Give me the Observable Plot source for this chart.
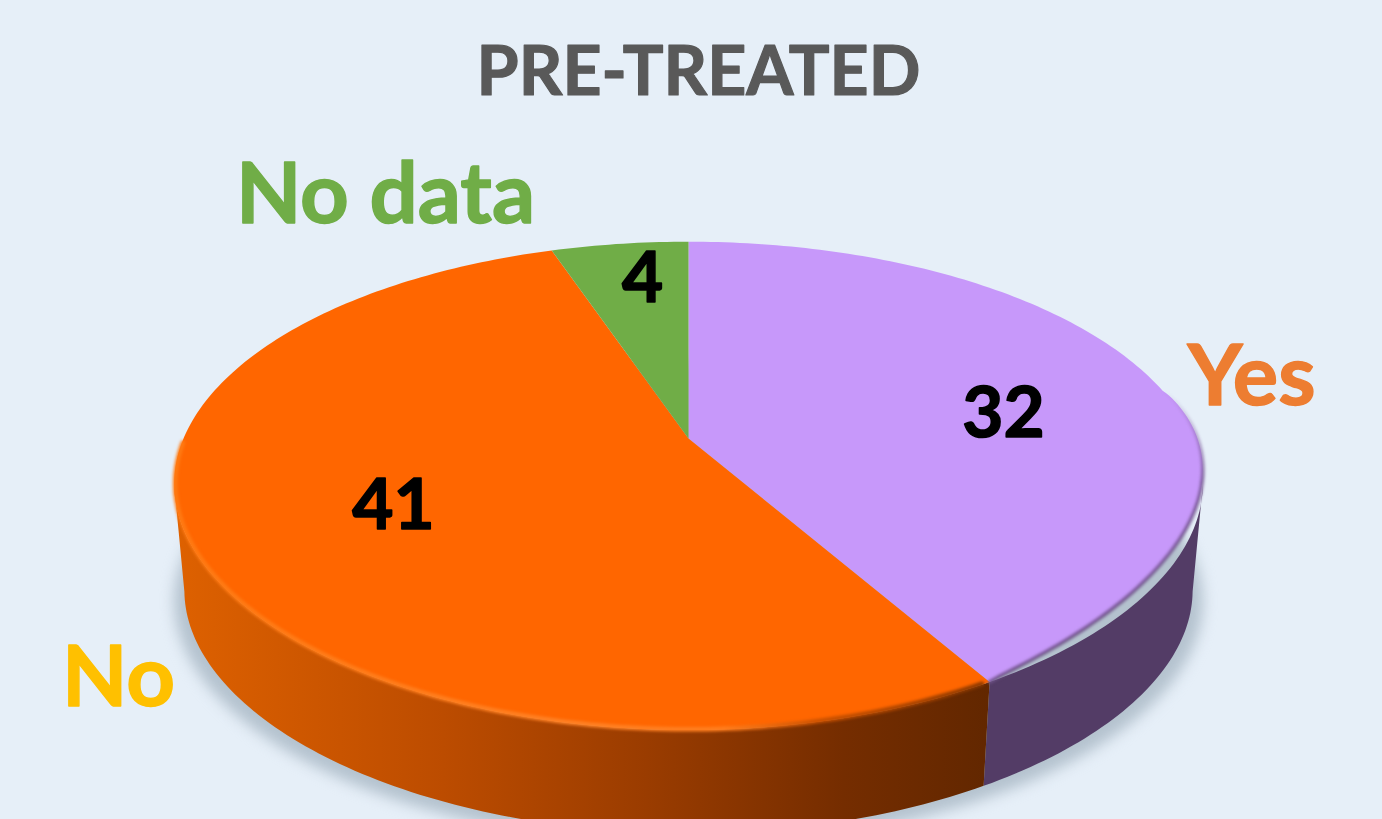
<!DOCTYPE html>
<html><head><meta charset="utf-8">
<script src="https://cdn.jsdelivr.net/npm/d3@7"></script>
<script src="https://cdn.jsdelivr.net/npm/@observablehq/plot@0.6"></script>
<style>html,body{margin:0;padding:0;background:#E6EFF8;overflow:hidden}svg{display:block}</style>
</head><body><div id="chart"></div>
<script>
const chartTitle = "PRE-TREATED";
const categories = ["Yes", "No", "No data"];
const values = [32, 41, 4];

const faceColors = ["#C798FA", "#FF6600", "#70AD47"];
const labelColors = ["#ED7D31", "#FFC000", "#70AD47"];

// Perspective disc: maps a polar position on the pie to the picture.
const k = 0.194;
const cx = 688;
const topPlane = {a: 438, b: 235, c: 505};
const basePlane = {a: 545, b: 232, c: 495};
const project = (p, deg, r = 1) => {
  const t = deg * Math.PI / 180, u = r * Math.sin(t), v = -r * Math.cos(t), w = 1 - k * v;
  const squeeze = 1 - 0.025 * Math.max(v, 0) ** 2;
  return {x: cx + p.c * u / w * squeeze, y: p.a + p.b * v / w};
};
const arcDegrees = (a0, a1) => {
  const n = Math.max(2, Math.ceil(Math.abs(a1 - a0)));
  return d3.range(n + 1).map(i => a0 + (a1 - a0) * i / n);
};
const arcs = d3.pie().sort(null).value(d => d)(values)
  .map(a => ({a0: a.startAngle * 180 / Math.PI, a1: a.endAngle * 180 / Math.PI}));

// The bevel on the lit-away right side eats into the purple face.
const bevelFrom = 78;
const bevel = d => d <= bevelFrom ? 0 : 16 * Math.sin(Math.PI * Math.min(1, (d - bevelFrom) / (arcs[0].a1 - bevelFrom))) ** 0.7;
const faceEdge = (i, d) => {
  const q = project(topPlane, d);
  return i === 0 ? {x: q.x, y: q.y - bevel(d)} : q;
};
const slicePts = i => [{x: cx, y: topPlane.a}, ...arcDegrees(arcs[i].a0, arcs[i].a1).map(d => faceEdge(i, d))];
const wallPts = (a0, a1) => [
  ...arcDegrees(a0, a1).map(d => project(topPlane, d)),
  ...arcDegrees(a1, a0).map(d => project(basePlane, d))
];
const rimStart = 101, rimEnd = 259;
const shadowPts = arcDegrees(0, 360).map(d => {
  const q = project(basePlane, d);
  return {x: cx + (q.x - cx) * 1.02, y: q.y + 11};
});

const stops = (id, list, vertical) => svgEl => {
  const g = svgEl.append("linearGradient").attr("id", id).attr("x1", 0).attr("x2", vertical ? 0 : 1).attr("y1", 0).attr("y2", vertical ? 1 : 0);
  list.forEach(([o, c, a = 1]) => g.append("stop").attr("offset", o).attr("stop-color", c).attr("stop-opacity", a));
};
const defs = () => {
  const d = d3.create("svg:defs");
  stops("wallOrange", [[0, "#DE6100"], [0.33, "#BC4C00"], [0.58, "#9A3C00"], [0.82, "#752D00"], [1, "#622700"]])(d);
  stops("rimOrange", [[0, "#FF7A12"], [0.5, "#FF8226"], [0.68, "#FF7E1E"], [0.8, "#C85000"], [1, "#8A3800"]])(d);
  stops("rimPurple", [[0, "#8E6CAE", 0], [0.3, "#7E5E9C"], [1, "#6F5288"]], true)(d);
  return d.node();
};

const textBase = {x: "x", y: "y", text: "t", fontFamily: "Lato, Carlito, sans-serif", fontWeight: 700, textAnchor: "middle", lineAnchor: "middle"};
const labelOffsets = [{x: 1251, y: 377}, {x: 118, y: 678}, {x: 385, y: 195}];
const valuePositions = [{x: 1003, y: 414}, {x: 393, y: 506}, {x: 642, y: 279}];

const chart = Plot.plot({
  width: 1382, height: 819, margin: 0,
  x: {domain: [0, 1382], range: [0, 1382], axis: null},
  y: {domain: [0, 819], range: [0, 819], axis: null},
  style: {background: "transparent", overflow: "hidden"},
  marks: [
    defs,
    Plot.line(shadowPts, {x: "x", y: "y", fill: "#B4C2CE", stroke: "none", imageFilter: "blur(7px)"}),
    Plot.line(wallPts(rimStart, arcs[0].a1), {x: "x", y: "y", fill: "#533C66", stroke: "none"}),
    Plot.line(wallPts(arcs[0].a1, rimEnd), {x: "x", y: "y", fill: "url(#wallOrange)", stroke: "none"}),
    ...categories.map((c, i) => Plot.line(slicePts(i), {x: "x", y: "y", fill: faceColors[i], stroke: "none"})),
    Plot.line(arcDegrees(bevelFrom, arcs[0].a1).map(d => faceEdge(0, d)), {x: "x", y: "y", stroke: "url(#rimPurple)", strokeWidth: 3.5, imageFilter: "blur(1.6px)"}),
    Plot.line(arcDegrees(arcs[0].a1 + 0.8, rimEnd + 10).map(d => project(topPlane, d, 0.998)), {x: "x", y: "y", stroke: "url(#rimOrange)", strokeWidth: 4.5, imageFilter: "blur(1.4px)"}),
    Plot.text([{x: 698, y: 73, t: chartTitle}], {...textBase, fontSize: 68, fill: "#595959", stroke: "#595959", strokeWidth: 1.2}),
    Plot.text(categories.map((c, i) => ({...labelOffsets[i], t: c, c: labelColors[i]})), {...textBase, fontSize: 85, fill: "c", stroke: "c", strokeWidth: 1.4}),
    Plot.text(values.map((v, i) => ({...valuePositions[i], t: String(v)})), {...textBase, fontSize: 71, fill: "#000", stroke: "#000", strokeWidth: 1.6})
  ]
});
document.getElementById("chart").append(chart);
</script></body></html>
